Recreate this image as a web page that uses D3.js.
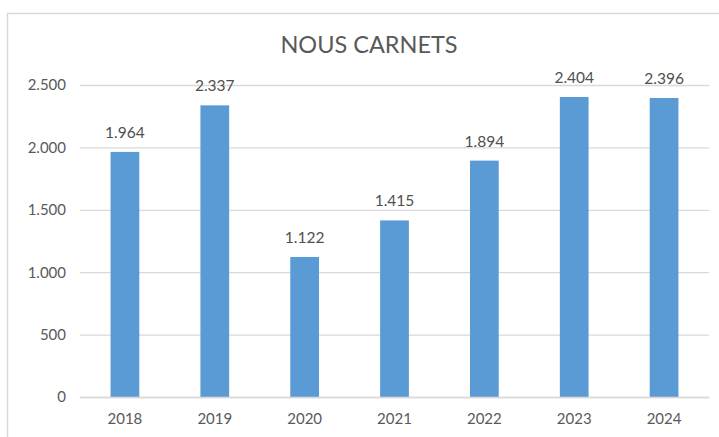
<!DOCTYPE html>
<html><head><meta charset="utf-8">
<script src="https://cdn.jsdelivr.net/npm/d3@7"></script>
<style>body{margin:0;background:#fff}svg{display:block}</style>
</head><body>
<script>
const categories = ["2018","2019","2020","2021","2022","2023","2024"];
const values = [1964, 2337, 1122, 1415, 1894, 2404, 2396];
const yTicks = [0, 500, 1000, 1500, 2000, 2500];
const title = "NOUS CARNETS";

const W = 719, H = 437;
const font = "Lato, 'Open Sans', Arial, sans-serif";
const svg = d3.select("body").append("svg").attr("width", W).attr("height", H);
svg.append("rect").attr("x", 7.5).attr("y", 13.5).attr("width", 740).attr("height", 440)
  .attr("fill", "#fff").attr("stroke", "#d9d9d9").attr("stroke-width", 1.5);

const m = {left: 80, right: 10, top: 85, bottom: 40};
const x = d3.scaleBand().domain(categories).range([m.left, 709]).paddingInner(0.68).paddingOuter(0.34);
const y = d3.scaleLinear().domain([0, 2500]).range([397, 85]);
const fmt = d => d3.format(",")(d).replace(/,/g, ".");

svg.append("text").attr("x", 369).attr("y", 53).attr("text-anchor", "middle")
  .attr("font-family", font).attr("font-size", 23.5).attr("fill", "#595959").text(title);

const gy = svg.append("g").attr("transform", `translate(${m.left},0)`)
  .call(d3.axisLeft(y).tickValues(yTicks).tickSize(-(709 - m.left)).tickFormat(fmt).tickPadding(14));
gy.select(".domain").remove();
gy.selectAll(".tick line").attr("stroke", "#d9d9d9").attr("stroke-width", 1.3);
gy.selectAll(".tick text").attr("font-family", font).attr("font-size", 15).attr("fill", "#595959");

svg.selectAll("rect.bar").data(values).join("rect").attr("class", "bar")
  .attr("x", (d, i) => x(categories[i])).attr("width", x.bandwidth())
  .attr("y", d => y(d)).attr("height", d => y(0) - y(d)).attr("fill", "#5b9bd5");

const gx = svg.append("g").attr("transform", `translate(0,${y(0)})`)
  .call(d3.axisBottom(x).tickSize(0).tickPadding(16));
gx.select(".domain").attr("stroke", "#d9d9d9").attr("stroke-width", 1.3);
gx.selectAll(".tick text").attr("font-family", font).attr("font-size", 15).attr("fill", "#595959");

svg.selectAll("text.val").data(values).join("text").attr("class", "val")
  .attr("x", (d, i) => x(categories[i]) + x.bandwidth() / 2).attr("y", d => y(d) - 14)
  .attr("text-anchor", "middle").attr("font-family", font).attr("font-size", 15.5).attr("fill", "#505050")
  .text(fmt);
</script>
</body></html>
